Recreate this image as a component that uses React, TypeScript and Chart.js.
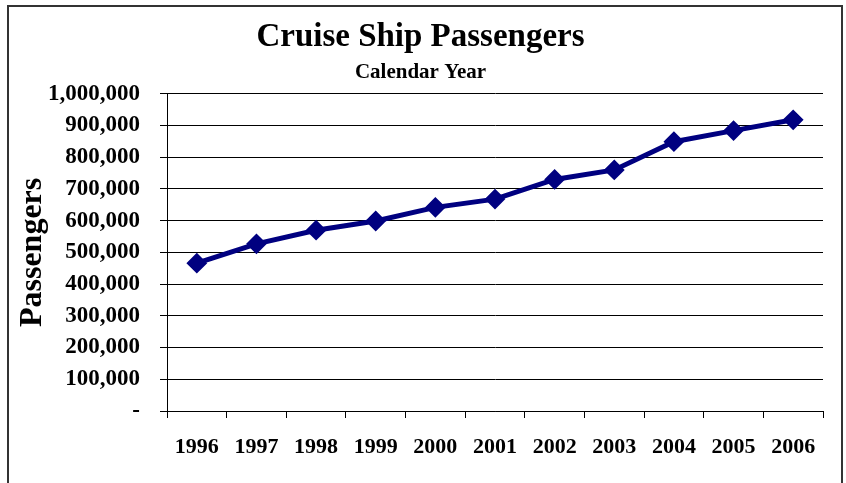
import React, { useEffect, useRef } from "react";
import { Chart, registerables } from "chart.js";

Chart.register(...registerables);

const years: string[] = ["1996", "1997", "1998", "1999", "2000", "2001", "2002", "2003", "2004", "2005", "2006"];
const passengers: number[] = [466000, 527000, 570000, 599000, 642000, 668000, 730000, 760000, 849000, 884000, 918000];
const yMin = 0;
const yMax = 1000000;
const yStep = 100000;

const SERIF = "'Liberation Serif', 'Times New Roman', serif";

export default function App() {
  const ref = useRef<HTMLCanvasElement | null>(null);

  useEffect(() => {
    if (!ref.current) return;
    const chart = new Chart(ref.current, {
      type: "line",
      data: {
        labels: years,
        datasets: [
          {
            label: "Passengers",
            data: passengers,
            borderColor: "#000080",
            backgroundColor: "#000080",
            borderWidth: 5,
            pointStyle: "rectRot",
            pointRadius: 9,
            pointBorderWidth: 2,
            pointBackgroundColor: "#000080",
            pointBorderColor: "#000080",
            tension: 0,
          },
        ],
      },
      options: {
        responsive: false,
        animation: false,
        color: "#000",
        layout: { padding: { left: 18, right: 23, top: 0, bottom: 0 } },
        plugins: {
          legend: { display: false },
          tooltip: { enabled: false },
          title: {
            display: true,
            text: "Cruise Ship Passengers",
            color: "#000",
            font: { family: SERIF, size: 33, weight: "bold" },
            padding: { top: 18, bottom: 0 },
          },
          subtitle: {
            display: true,
            text: "Calendar Year",
            color: "#000",
            font: { family: SERIF, size: 21, weight: "bold" },
            padding: { top: 2, bottom: 9 },
          },
        },
        scales: {
          x: {
            type: "category",
            offset: true,
            grid: {
              offset: true,
              drawOnChartArea: false,
              drawTicks: true,
              tickLength: 7,
              color: "#000",
            },
            border: { display: true, color: "#000", width: 1 },
            ticks: {
              color: "#000",
              font: { family: SERIF, size: 22, weight: "bold" },
              padding: 16,
              maxRotation: 0,
              autoSkip: false,
            },
            afterFit: (scale: any) => {
              scale.height = 72;
            },
          },
          y: {
            min: yMin,
            max: yMax,
            grid: {
              color: "#000",
              lineWidth: 1,
              drawTicks: true,
              tickLength: 7,
            },
            border: { display: true, color: "#000", width: 1 },
            ticks: {
              stepSize: yStep,
              color: "#000",
              font: { family: SERIF, size: 23, weight: "bold" },
              padding: 20,
              callback: (v: any) => (Number(v) === 0 ? "-" : Number(v).toLocaleString("en-US")),
            },
            title: {
              display: true,
              text: "Passengers",
              color: "#000",
              font: { family: SERIF, size: 32, weight: "bold" },
              padding: { top: -4, bottom: 0 },
            },
            afterFit: (scale: any) => {
              scale.width = 149;
            },
          },
        },
      },
    });
    return () => chart.destroy();
  }, []);

  return (
    <div
      style={{
        position: "absolute",
        left: 0,
        top: 0,
        width: 846,
        height: 483,
        overflow: "hidden",
        background: "#fff",
      }}
    >
      <canvas ref={ref} width={846} height={483} style={{ position: "absolute", left: 0, top: 0 }} />
      <div
        style={{
          position: "absolute",
          left: 7,
          top: 5,
          width: 836,
          height: 520,
          border: "2px solid #333",
          boxSizing: "border-box",
          pointerEvents: "none",
        }}
      />
    </div>
  );
}
